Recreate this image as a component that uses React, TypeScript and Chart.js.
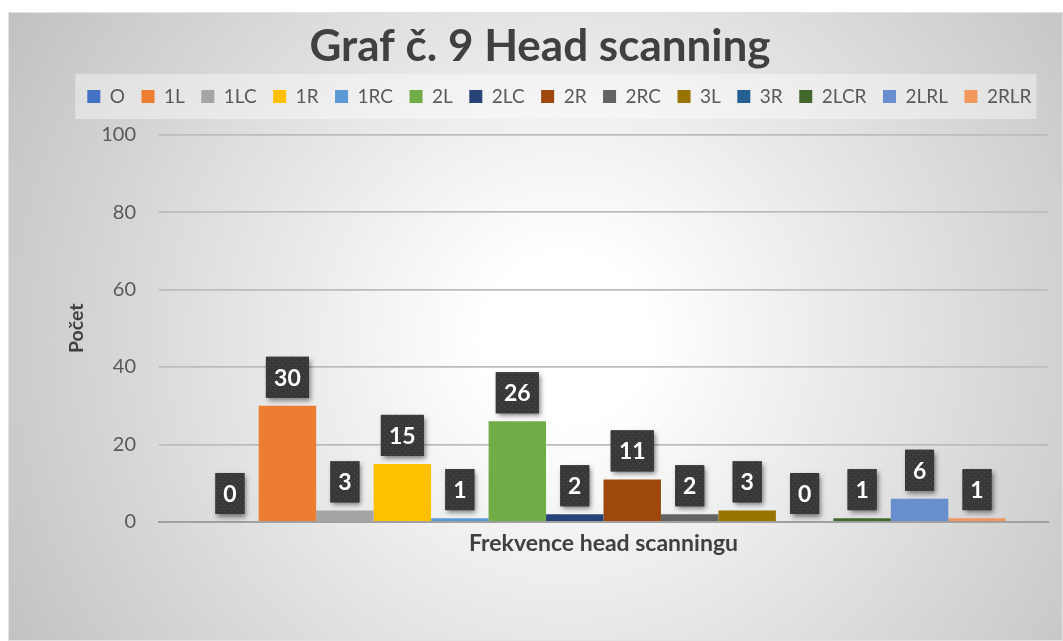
import React, { useEffect, useRef } from "react";
import { Chart, registerables } from "chart.js";

Chart.register(...registerables);

const categories = [""];
const seriesNames = ["O", "1L", "1LC", "1R", "1RC", "2L", "2LC", "2R", "2RC", "3L", "3R", "2LCR", "2LRL", "2RLR"];
const seriesValues = [0, 30, 3, 15, 1, 26, 2, 11, 2, 3, 0, 1, 6, 1];
const seriesColors = [
  "#4472C4", "#ED7D31", "#A5A5A5", "#FFC000", "#5B9BD5", "#70AD47", "#264478",
  "#9E480E", "#636363", "#997300", "#255E91", "#43682B", "#698ED0", "#F1975A",
];
const yMin = 0;
const yMax = 100;
const yStep = 20;
const titleText = "Graf č. 9 Head scanning";
const yTitleText = "Počet";
const xTitleText = "Frekvence head scanningu";

const FONT = "Lato, 'Open Sans', 'DejaVu Sans', sans-serif";

const backgroundPlugin = {
  id: "bgPlugin",
  beforeDraw(chart: any) {
    const { ctx, width, height } = chart;
    ctx.save();
    const cx = width * 0.528;
    const cy = height * 0.52;
    const g = ctx.createRadialGradient(cx, cy, 0, cx, cy, 700);
    g.addColorStop(0, "#ffffff");
    g.addColorStop(0.12, "#ffffff");
    g.addColorStop(1, "#bbbbbb");
    ctx.fillStyle = g;
    ctx.fillRect(0, 0, width, height);
    ctx.strokeStyle = "#e2e2e2";
    ctx.lineWidth = 1;
    ctx.strokeRect(0.5, 0.5, width - 1, height - 1);

    const legend = chart.legend;
    if (legend && legend.legendHitBoxes && legend.legendHitBoxes.length) {
      const hb = legend.legendHitBoxes;
      const first = hb[0];
      const last = hb[hb.length - 1];
      const cyL = first.top + first.height / 2;
      const left = first.left - 12;
      const right = last.left + last.width + 5;
      ctx.fillStyle = "rgba(255,255,255,0.4)";
      ctx.fillRect(left, cyL - 22.5, right - left, 45);
    }
    ctx.restore();
  },
};

let dotPattern: CanvasPattern | null = null;
function getPattern(ctx: CanvasRenderingContext2D) {
  if (dotPattern) return dotPattern;
  const c = document.createElement("canvas");
  c.width = 6;
  c.height = 6;
  const p = c.getContext("2d")!;
  p.fillStyle = "#383838";
  p.fillRect(0, 0, 6, 6);
  p.fillStyle = "#505050";
  p.fillRect(1, 1, 1, 1);
  p.fillRect(4, 4, 1, 1);
  dotPattern = ctx.createPattern(c, "repeat");
  return dotPattern;
}

const labelPlugin = {
  id: "boxLabels",
  afterDatasetsDraw(chart: any) {
    const { ctx } = chart;
    ctx.save();
    ctx.font = `bold 23px ${FONT}`;
    ctx.textAlign = "center";
    ctx.textBaseline = "middle";
    chart.data.datasets.forEach((ds: any, i: number) => {
      const meta = chart.getDatasetMeta(i);
      if (!meta || meta.hidden) return;
      meta.data.forEach((bar: any, j: number) => {
        const v = ds.data[j];
        const text = String(v);
        const tw = ctx.measureText(text).width;
        const w = Math.round(tw + 16);
        const h = 41;
        const x = bar.x - w / 2;
        const y = bar.y - 8 - h;
        ctx.save();
        ctx.shadowColor = "rgba(0,0,0,0.5)";
        ctx.shadowBlur = 5;
        ctx.shadowOffsetX = 2;
        ctx.shadowOffsetY = 3;
        ctx.fillStyle = "#383838";
        ctx.fillRect(x, y, w, h);
        ctx.restore();
        ctx.fillStyle = getPattern(ctx) as any;
        ctx.fillRect(x, y, w, h);
        ctx.fillStyle = "#ffffff";
        ctx.fillText(text, bar.x, y + h / 2 + 1);
      });
    });
    ctx.restore();
  },
};

export default function App() {
  const ref = useRef<HTMLCanvasElement>(null);
  useEffect(() => {
    if (!ref.current) return;
    const datasets = seriesNames.map((name, i) => ({
      label: name,
      data: [seriesValues[i]],
      backgroundColor: seriesColors[i],
      borderWidth: 0,
      categoryPercentage: 0.905,
      barPercentage: 1,
    }));
    const chart = new Chart(ref.current, {
      type: "bar",
      data: { labels: categories, datasets },
      plugins: [backgroundPlugin, labelPlugin],
      options: {
        animation: false,
        responsive: false,
        maintainAspectRatio: false,
        layout: { padding: { left: 24, right: 15, top: 0, bottom: 0 } },
        plugins: {
          tooltip: { enabled: false },
          title: {
            display: true,
            text: titleText,
            color: "#404040",
            font: { family: FONT, size: 44, weight: "bold", lineHeight: 1.05 },
            padding: { top: 12, bottom: 0.4 },
          },
          subtitle: {
            display: true,
            text: "",
            weight: 500,
            font: { family: FONT, size: 1, lineHeight: 1 },
            padding: { top: 17.5, bottom: 0 },
          } as any,
          legend: {
            display: true,
            position: "top",
            align: "end",
            labels: {
              color: "#595959",
              font: { family: FONT, size: 19 },
              boxWidth: 13,
              boxHeight: 13,
              padding: 16.5,
            },
          },
        },
        scales: {
          x: {
            grid: { display: false },
            border: { display: true, color: "#a0a0a0", width: 2 },
            ticks: { display: false },
            title: {
              display: true,
              text: xTitleText,
              color: "#404040",
              font: { family: FONT, size: 23, weight: "bold", lineHeight: 1.2 },
              padding: { top: 0, bottom: 84 },
            },
            afterFit(scale: any) {
              scale.height = 119;
            },
          },
          y: {
            min: yMin,
            max: yMax,
            ticks: {
              stepSize: yStep,
              color: "#595959",
              font: { family: FONT, size: 20 },
              padding: 23,
            },
            grid: {
              drawTicks: false,
              color: (c: any) => (c.tick && c.tick.value === 0 ? "#a0a0a0" : "#bcbcbc"),
              lineWidth: (c: any) => (c.tick && c.tick.value === 0 ? 2 : 1.8),
            },
            border: { display: false },
            title: {
              display: true,
              text: yTitleText,
              color: "#404040",
              font: { family: FONT, size: 19.5, weight: "bold", lineHeight: 1.2 },
              padding: { top: 33, bottom: 0 },
            },
            afterFit(scale: any) {
              scale.width = 127;
            },
          },
        },
      } as any,
    });
    return () => chart.destroy();
  }, []);
  return (
    <div style={{ position: "absolute", left: 8, top: 12, width: 1055, height: 629 }}>
      <canvas ref={ref} width={1055} height={629} style={{ display: "block", width: 1055, height: 629 }} />
    </div>
  );
}
